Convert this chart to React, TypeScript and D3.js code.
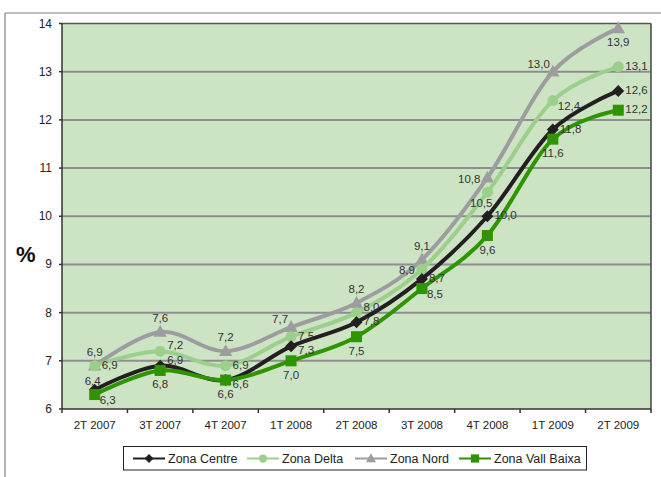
import React from "react";
import * as d3 from "d3";

const categories = ["2T 2007", "3T 2007", "4T 2007", "1T 2008", "2T 2008", "3T 2008", "4T 2008", "1T 2009", "2T 2009"];
const centre = [6.4, 6.9, 6.6, 7.3, 7.8, 8.7, 10.0, 11.8, 12.6];
const delta = [6.9, 7.2, 6.9, 7.5, 8.0, 8.9, 10.5, 12.4, 13.1];
const nord = [6.9, 7.6, 7.2, 7.7, 8.2, 9.1, 10.8, 13.0, 13.9];
const vallBaixa = [6.3, 6.8, 6.6, 7.0, 7.5, 8.5, 9.6, 11.6, 12.2];
const yTicks = [6, 7, 8, 9, 10, 11, 12, 13, 14];

// label placement codes per point
const centrePos = ["ts", "rt", "rb", "rb", "r", "r", "r", "r", "r"];
const deltaPos = ["r", "rt", "r", "r", "rt", "l", "bl", "br", "r"];
const nordPos = ["t", "t", "t", "tl", "t", "t", "l", "tl", "b"];
const vallPos = ["br", "b", "b", "b", "b", "br", "b", "b", "r"];

type Series = { name: string; values: number[]; color: string; marker: string; pos: string[] };

const series: Series[] = [
  { name: "Zona Nord", values: nord, color: "#9d9d9f", marker: "triangle", pos: nordPos },
  { name: "Zona Delta", values: delta, color: "#9ccf8b", marker: "circle", pos: deltaPos },
  { name: "Zona Centre", values: centre, color: "#231f20", marker: "diamond", pos: centrePos },
  { name: "Zona Vall Baixa", values: vallBaixa, color: "#2e9400", marker: "square", pos: vallPos },
];
const legendOrder = ["Zona Centre", "Zona Delta", "Zona Nord", "Zona Vall Baixa"];

const W = 661, H = 477;
const left = 62, right = 651, top = 23.5, bottom = 409;
const font = "'Liberation Sans', Arimo, Arial, sans-serif";

function Marker({ kind, x, y, color, s = 1 }: { kind: string; x: number; y: number; color: string; s?: number }) {
  if (kind === "square") return <rect x={x - 5.5 * s} y={y - 5.5 * s} width={11 * s} height={11 * s} fill={color} />;
  if (kind === "circle") return <circle cx={x} cy={y} r={5.5 * s} fill={color} />;
  if (kind === "diamond") {
    const r = 6 * s;
    return <path d={`M${x},${y - r}L${x + r},${y}L${x},${y + r}L${x - r},${y}Z`} fill={color} />;
  }
  const r = 7 * s;
  return <path d={`M${x},${y - r}L${x + r * 0.95},${y + r * 0.7}L${x - r * 0.95},${y + r * 0.7}Z`} fill={color} />;
}

function labelProps(code: string, x: number, y: number) {
  switch (code) {
    case "t": return { x, y: y - 10, anchor: "middle" };
    case "ts": return { x: x - 2, y: y - 5, anchor: "middle" };
    case "b": return { x, y: y + 18, anchor: "middle" };
    case "r": return { x: x + 7, y: y + 3, anchor: "start" };
    case "rt": return { x: x + 7, y: y - 2, anchor: "start" };
    case "rb": return { x: x + 7, y: y + 8, anchor: "start" };
    case "l": return { x: x - 7, y: y + 5, anchor: "end" };
    case "tl": return { x: x - 3, y: y - 4, anchor: "end" };
    case "br": return { x: x + 5, y: y + 9, anchor: "start" };
    case "bl": return { x: x + 5, y: y + 15, anchor: "end" };
    default: return { x, y, anchor: "middle" };
  }
}

export default function App() {
  const xBand = d3.scaleBand<string>().domain(categories).range([left, right]);
  const xc = (i: number) => (xBand(categories[i]) as number) + xBand.bandwidth() / 2;
  const y = d3.scaleLinear().domain([6, 14]).range([bottom, top]);
  const line = d3.line<number>().x((_, i) => xc(i)).y((v) => y(v)).curve(d3.curveCatmullRom.alpha(0));
  const boundaries = categories.map((c) => xBand(c) as number).concat([right]);

  const legendX: Record<string, number> = { "Zona Centre": 133, "Zona Delta": 247, "Zona Nord": 355, "Zona Vall Baixa": 459 };

  return (
    <svg width={W} height={H} style={{ position: "absolute", left: 0, top: 0, fontFamily: font }}>
      <rect x={0} y={0} width={W} height={H} fill="#fff" />
      <line x1={5} y1={13} x2={W} y2={13} stroke="#808080" strokeWidth={1.2} />
      <line x1={5} y1={13} x2={5} y2={H} stroke="#808080" strokeWidth={1.2} />
      <rect x={left} y={top} width={right - left} height={bottom - top} fill="#cce4c3" />
      {yTicks.slice(1, -1).map((t) => (
        <line key={t} x1={left} x2={right} y1={y(t)} y2={y(t)} stroke="#8e8e8e" strokeWidth={2} />
      ))}
      <line x1={left} x2={right} y1={y(14)} y2={y(14)} stroke="#555" strokeWidth={1.5} />
      <line x1={right} x2={right} y1={top} y2={bottom} stroke="#444" strokeWidth={1.5} />
      <line x1={left} x2={left} y1={top} y2={bottom} stroke="#333" strokeWidth={1.5} />
      <line x1={left} x2={right} y1={bottom} y2={bottom} stroke="#333" strokeWidth={1.5} />
      {yTicks.map((t) => (
        <g key={t}>
          <line x1={left - 3} x2={left} y1={y(t)} y2={y(t)} stroke="#333" strokeWidth={1.5} />
          <text x={52} y={y(t) + 4} textAnchor="end" fontSize={12} fill="#222">{t}</text>
        </g>
      ))}
      {boundaries.map((b, i) => (
        <line key={i} x1={b} x2={b} y1={bottom} y2={bottom + 4} stroke="#333" strokeWidth={1.5} />
      ))}
      {categories.map((c, i) => (
        <text key={c} x={xc(i)} y={429} textAnchor="middle" fontSize={11.5} fill="#222">{c}</text>
      ))}
      <text x={16} y={262} fontSize={22} fontWeight="bold" fill="#111">%</text>
      {series.map((s) => (
        <g key={s.name}>
          <path d={line(s.values) as string} fill="none" stroke={s.color} strokeWidth={4} />
          {s.values.map((v, i) => (
            <Marker key={i} kind={s.marker} x={xc(i)} y={y(v)} color={s.color} />
          ))}
        </g>
      ))}
      {series.map((s) =>
        s.values.map((v, i) => {
          const p = labelProps(s.pos[i], xc(i), y(v));
          return (
            <text key={s.name + i} x={p.x} y={p.y} textAnchor={p.anchor as any} fontSize={11.5} fill="#333">
              {d3.format(".1f")(v).replace(".", ",")}
            </text>
          );
        })
      )}
      <rect x={123.5} y={446.5} width={463} height={23.5} fill="#fff" stroke="#222" strokeWidth={1} />
      {legendOrder.map((name) => {
        const s = series.find((d) => d.name === name) as Series;
        const lx = legendX[name];
        const ly = 458.5;
        return (
          <g key={name}>
            <line x1={lx} x2={lx + 32} y1={ly} y2={ly} stroke={s.color} strokeWidth={2} />
            <Marker kind={s.marker} x={lx + 16} y={ly} color={s.color} s={0.75} />
            <text x={lx + 35} y={ly + 4.5} fontSize={12.5} fill="#222">{name}</text>
          </g>
        );
      })}
    </svg>
  );
}
